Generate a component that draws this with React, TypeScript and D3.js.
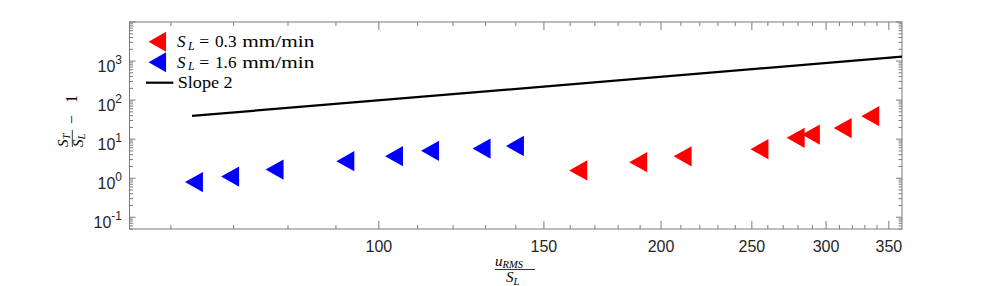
import React from "react";
import * as d3 from "d3";

const blueX = [63.5, 69.4, 77.4, 92.1, 103.8, 113.4, 128.7, 139.7];
const blueY = [0.795, 1.1, 1.66, 2.73, 3.66, 5.03, 5.75, 6.67];
const redX = [163.2, 189.1, 210.9, 254.7, 278.4, 289, 312.5, 334.4];
const redY = [1.58, 2.57, 3.64, 5.53, 10.8, 13.1, 19.2, 38.8];
const slopeX = [63.2, 361.5];
const slopeY = [39.5, 1292];
const xMajorTicks = [100, 150, 200, 250, 300, 350];
const xMinorTicks = [60, 70, 80, 90, 110, 120, 130, 140, 160, 170, 180, 190, 210, 220, 230, 240, 260, 270, 280, 290, 310, 320, 330, 340];
const yExponents = [-1, 0, 1, 2, 3];
const legendValues = ["0.3", "1.6"];
const legendUnit = "mm/min";
const legendSlope = "Slope 2";

const W = 997;
const H = 286;
const L = 129.5, R = 902, T = 22, B = 229;
const AX = "#7a7a7a";
const TXT = "#262626";
const SERIF = "'Liberation Serif', 'DejaVu Serif', serif";
const SANS = "'Liberation Sans', Arial, sans-serif";

function tri(cx: number, cy: number, w = 18, h = 20.3) {
  return `M${cx - w / 2},${cy}L${cx + w / 2},${cy - h / 2}L${cx + w / 2},${cy + h / 2}Z`;
}

export default function App() {
  const x = d3.scaleLog().domain([54.2, 361.5]).range([L, R]);
  const y = d3.scaleLog().domain([0.05, 10000]).range([B, T]);

  const yMinor: number[] = [];
  for (let e = -2; e <= 3; e++) {
    for (let k = 2; k <= 9; k++) {
      const v = k * Math.pow(10, e);
      if (v >= 0.05 && v <= 10000) yMinor.push(v);
    }
  }
  const line = d3.line<number>().x((d) => x(d)).y((_, i) => y(slopeY[i]));

  const legRows = [41.7, 62.2, 82.7];
  const legX = 157.3;
  const textX = 177;

  return (
    <svg width={W} height={H} style={{ position: "absolute", left: 0, top: 0, background: "#fff" }}>
      <rect x={0} y={0} width={W} height={H} fill="#fff" />
      {/* ticks */}
      <g stroke={AX} strokeWidth={1} fill="none">
        {xMajorTicks.map((t) => (
          <g key={"xM" + t}>
            <line x1={x(t)} x2={x(t)} y1={B} y2={B - 8} />
            <line x1={x(t)} x2={x(t)} y1={T} y2={T + 8} />
          </g>
        ))}
        {xMinorTicks.map((t) => (
          <g key={"xm" + t}>
            <line x1={x(t)} x2={x(t)} y1={B} y2={B - 4} />
            <line x1={x(t)} x2={x(t)} y1={T} y2={T + 4} />
          </g>
        ))}
        {yExponents.concat([4]).filter((e) => Math.pow(10, e) <= 10000 && Math.pow(10, e) >= 0.05).map((e) => (
          <g key={"yM" + e}>
            <line x1={L} x2={L + 6} y1={y(Math.pow(10, e))} y2={y(Math.pow(10, e))} />
            <line x1={R} x2={R - 6} y1={y(Math.pow(10, e))} y2={y(Math.pow(10, e))} />
          </g>
        ))}
        {yMinor.map((v, i) => (
          <g key={"ym" + i}>
            <line x1={L} x2={L + 3.5} y1={y(v)} y2={y(v)} />
            <line x1={R} x2={R - 3.5} y1={y(v)} y2={y(v)} />
          </g>
        ))}
        <rect x={L} y={T} width={R - L} height={B - T} />
      </g>

      {/* x tick labels */}
      <g fontFamily={SANS} fontSize={16} fill={TXT} textAnchor="middle">
        {xMajorTicks.map((t) => (
          <text key={"xl" + t} x={x(t)} y={252}>{t}</text>
        ))}
      </g>
      {/* y tick labels */}
      <g fontFamily={SANS} fill={TXT} textAnchor="end">
        {yExponents.map((e) => (
          <text key={"yl" + e} x={122} y={y(Math.pow(10, e)) + 10.5} fontSize={16}>
            10<tspan fontSize={12} dy={-8}>{e}</tspan>
          </text>
        ))}
      </g>

      {/* slope line */}
      <path d={line(slopeX) || ""} stroke="#000" strokeWidth={2.2} fill="none" />

      {/* data */}
      {blueX.map((v, i) => (
        <path key={"b" + i} d={tri(x(v), y(blueY[i]))} fill="#0000ff" />
      ))}
      {redX.map((v, i) => (
        <path key={"r" + i} d={tri(x(v), y(redY[i]))} fill="#ff0000" />
      ))}

      {/* legend */}
      <path d={tri(legX, legRows[0], 17.5, 20)} fill="#ff0000" />
      <path d={tri(legX, legRows[1], 17.5, 20)} fill="#0000ff" />
      <line x1={146} x2={173.3} y1={legRows[2]} y2={legRows[2]} stroke="#000" strokeWidth={2.2} />
      <g fontFamily={SERIF} fontSize={17} fill="#000">
        {[0, 1].map((i) => {
          const bl = legRows[i] + 5.3;
          return (
            <g key={"lg" + i}>
              <text x={textX} y={bl} fontStyle="italic">S</text>
              <text x={textX + 11} y={bl + 2.5} fontStyle="italic" fontSize={12}>L</text>
              <text x={199.3} y={bl} textLength={10} lengthAdjust="spacingAndGlyphs">=</text>
              <text x={215} y={bl} textLength={21.5} lengthAdjust="spacingAndGlyphs">{legendValues[i]}</text>
              <text x={242.3} y={bl} textLength={72} lengthAdjust="spacingAndGlyphs">{legendUnit}</text>
            </g>
          );
        })}
        <text x={177.7} y={legRows[2] + 5} textLength={55} lengthAdjust="spacingAndGlyphs">{legendSlope}</text>
      </g>

      {/* x label */}
      <g fontFamily={SERIF} fill="#000">
        <text x={495} y={266} fontSize={15} fontStyle="italic">
          u<tspan fontSize={10.5} dy={2}>RMS</tspan>
        </text>
        <line x1={495} x2={535} y1={269.5} y2={269.5} stroke="#000" strokeWidth={0.8} />
        <text x={506} y={282} fontSize={15} fontStyle="italic">
          S<tspan fontSize={10.5} dy={2.5}>L</tspan>
        </text>
      </g>

      {/* y label */}
      <g transform="translate(72.3,147) rotate(-90)" fontFamily={SERIF} fill="#000">
        <text x={0} y={-4} fontSize={15} fontStyle="italic">
          S<tspan fontSize={10.5} dy={2}>T</tspan>
        </text>
        <line x1={0} x2={17} y1={0} y2={0} stroke="#000" strokeWidth={0.8} />
        <text x={0} y={10.5} fontSize={15} fontStyle="italic">
          S<tspan fontSize={10.5} dy={2}>L</tspan>
        </text>
        <text x={23} y={5} fontSize={16}>{"\u2212"}</text>
        <text x={44} y={5} fontSize={16}>1</text>
      </g>
    </svg>
  );
}
